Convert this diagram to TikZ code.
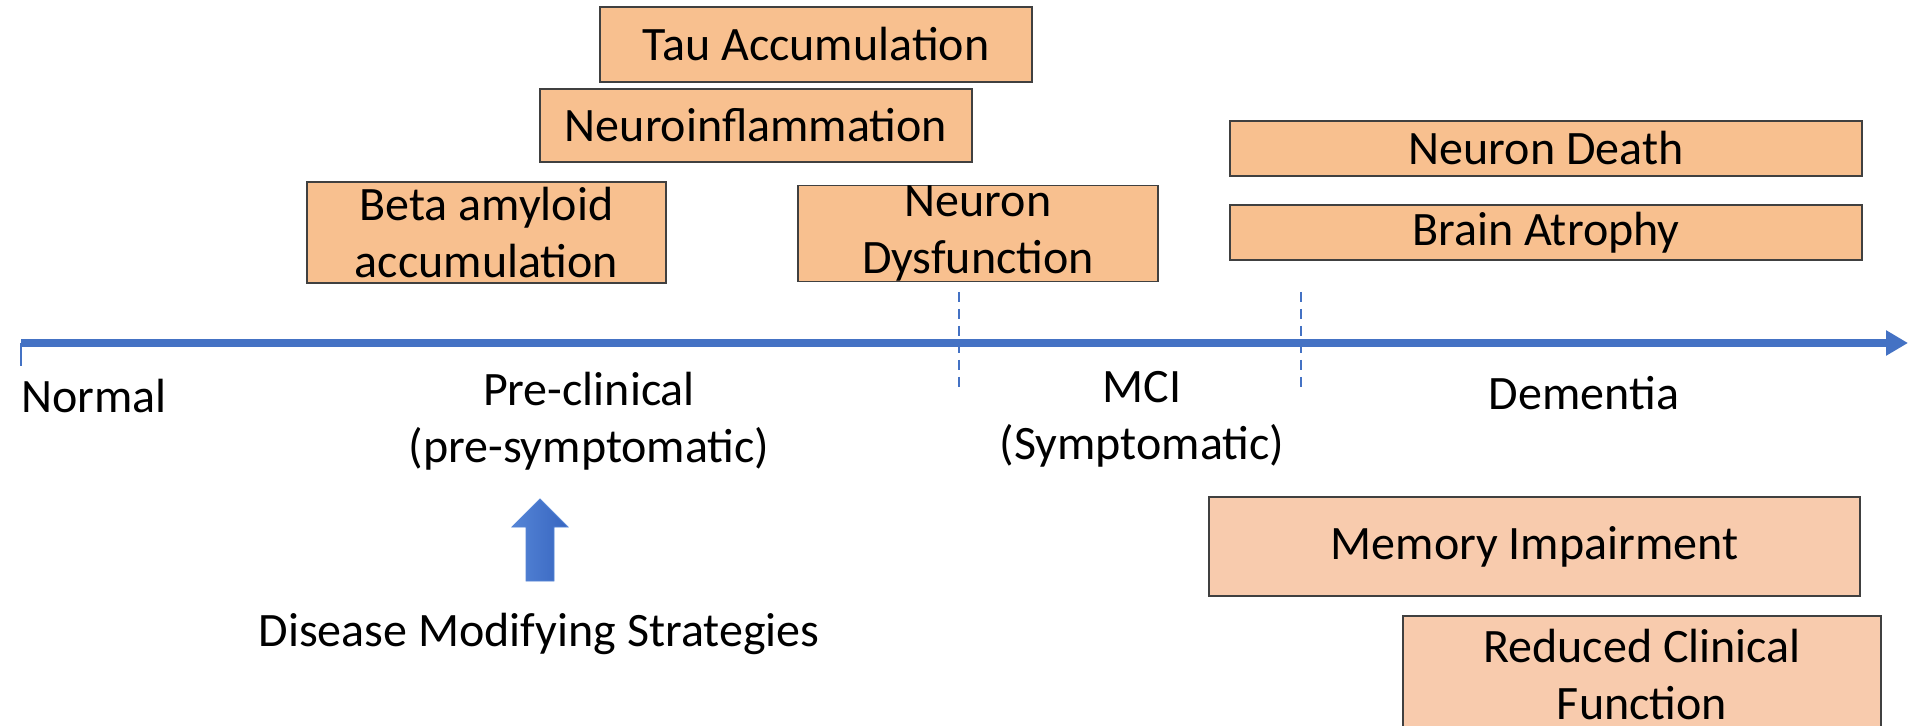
\documentclass[tikz,border=0pt]{standalone}
\usepackage{fontspec}
\setmainfont{Carlito}
\usetikzlibrary{arrows.meta}
\definecolor{tlblue}{HTML}{4472C4}
\definecolor{boxA}{HTML}{F8C08F}
\definecolor{boxB}{HTML}{F8CBAD}
\definecolor{edgecol}{HTML}{404040}
\definecolor{arrL}{HTML}{5585D6}
\definecolor{arrR}{HTML}{3765C0}
\begin{document}
\begin{tikzpicture}[x=0.5pt,y=-0.5pt,
  every node/.style={font=\fontsize{24}{28.5}\selectfont, inner sep=0pt},
  sbox/.style={draw=edgecol, line width=0.6pt, fill=boxA, align=center, anchor=center},
  lbox/.style={sbox, fill=boxB},
  lbl/.style={align=center, anchor=center},
  divider/.style={draw=tlblue, line width=1.1pt, dash pattern=on 5pt off 3.5pt}]
\clip (0,0) rectangle (1915,726);
\fill[white] (0,0) rectangle (1915,726);

% boxes
\node[sbox, minimum width=216pt, minimum height=37.5pt] (tau) at (816,44.5) {Tau Accumulation};
\node[sbox, minimum width=216pt, minimum height=36.5pt] (neuroinf) at (756,125.5) {Neuroinflammation};
\node[sbox, minimum width=179.5pt, minimum height=50.5pt] (beta) at (486.5,232.5) {Beta amyloid\\accumulation};
\node[sbox, minimum width=180pt, minimum height=47.5pt] (dysf) at (978,233.5) {Neuron\\Dysfunction};
\node[sbox, minimum width=316pt, minimum height=27.5pt] (death) at (1546,148.5) {Neuron Death};
\node[sbox, minimum width=316pt, minimum height=27.5pt] (atrophy) at (1546,232.5) {Brain Atrophy};
\node[lbox, minimum width=325.5pt, minimum height=49.5pt] (memory) at (1534.5,546.5) {Memory Impairment};
\node[lbox, minimum width=239pt, minimum height=59pt] (reduced) at (1642,675) {Reduced Clinical\\Function};

% timeline
\coordinate (tstart) at (21,343);
\coordinate (tend) at (1908,343);
\coordinate (tick) at (21,366);
\draw[tlblue, line width=1.2pt] (tstart) -- (tick);
\draw[tlblue, line width=4pt, -{Triangle[length=11pt,width=12pt]}] (tstart) -- (tend);

% dividers
\coordinate (d1a) at (959,292); \coordinate (d1b) at (959,391);
\coordinate (d2a) at (1301,292); \coordinate (d2b) at (1301,391);
\draw[divider] (d1a) -- (d1b);
\draw[divider] (d2a) -- (d2b);

% stage labels
\node[anchor=base west] (normal) at (21,413) {Normal};
\node[lbl] (pre) at (589,421) {Pre-clinical\\(pre-symptomatic)};
\node[lbl] (mci) at (1142,419) {MCI\\(Symptomatic)};
\node[lbl] (dementia) at (1584,393) {Dementia};

% strategy arrow
\shade[left color=arrL, right color=arrR, draw=arrL, line width=0.4pt]
  (540,499) -- (568,527) -- (554,527) -- (554,581) -- (526,581) -- (526,527) -- (512,527) -- cycle;
\node[lbl] (dms) at (539,634) {Disease Modifying Strategies};
\end{tikzpicture}
\end{document}
